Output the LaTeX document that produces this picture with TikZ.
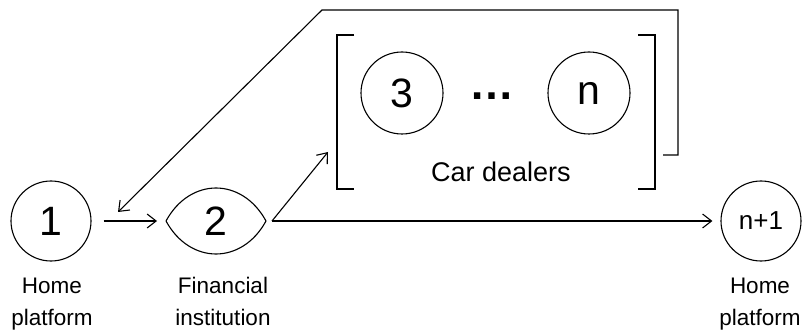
\documentclass[tikz,border=0pt]{standalone}
\usepackage{fontspec}
\setmainfont{Liberation Sans}
\usetikzlibrary{arrows.meta}
\begin{document}
\begin{tikzpicture}[x=1pt, y=-1pt, line width=1.1pt,
  agent/.style={circle, draw, minimum size=80pt, inner sep=0pt},
  bigdigit/.style={font=\fontsize{41}{41}\selectfont},
  caption/.style={anchor=base, inner sep=0pt, font=\fontsize{22.5}{27}\selectfont},
  flow/.style={-{Straight Barb[length=9pt,width=14pt,line width=1.1pt]}},
]
\useasboundingbox (0,0) rectangle (803,331);

% platforms and the financial institution
\node[agent, bigdigit] (n1) at (51,221) {1};
\node[bigdigit, inner sep=0pt] (n2) at (216,221) {2};
\coordinate (n2w) at (166,221);
\coordinate (n2e) at (266,221);
\coordinate (n2out) at (272,221);
\draw (n2w) .. controls (190,177) and (242,177) .. (n2e)
            .. controls (242,265) and (190,265) .. (n2w);
\node[agent, font=\fontsize{26}{26}\selectfont] (nlast) at (761,221) {n+1};

% car dealers group
\node[agent, minimum size=82pt, bigdigit] (n3) at (402,93) {3};
\node[agent, minimum size=82pt, bigdigit] (nn) at (589,93) {n};
\node[anchor=base, inner sep=0pt, font=\bfseries\fontsize{45}{45}\selectfont] (dots) at (491.5,99.5) {…};
\node[anchor=base, inner sep=0pt, font=\fontsize{27}{27}\selectfont] (dealers) at (501,182) {Car dealers};
\draw (354,35) -- (337,35) -- (337,189) -- (354,189);
\draw (638,35) -- (655,35) -- (655,189) -- (638,189);
\coordinate (dealersIn) at (328,152);
\coordinate (dealersOut) at (663,155);
\coordinate (backTip) at (118,212);

% labels
\node[caption] (l1a) at (52,293) {Home};
\node[caption] (l1b) at (52,325) {platform};
\node[caption] (l2a) at (223,293) {Financial};
\node[caption] (l2b) at (223,325) {institution};
\node[caption] (l3a) at (760,293) {Home};
\node[caption] (l3b) at (760,325) {platform};

% connectors
\draw[flow, shorten <=12pt, shorten >=9pt] (n1.east) -- (n2w);
\draw[flow] (n2out) -- (dealersIn);
\draw[flow, shorten >=8pt] (n2out) -- (nlast.west);
\draw[flow] (dealersOut) -- (678,155) -- (678,10) -- (322,10) -- (backTip);
\end{tikzpicture}
\end{document}
